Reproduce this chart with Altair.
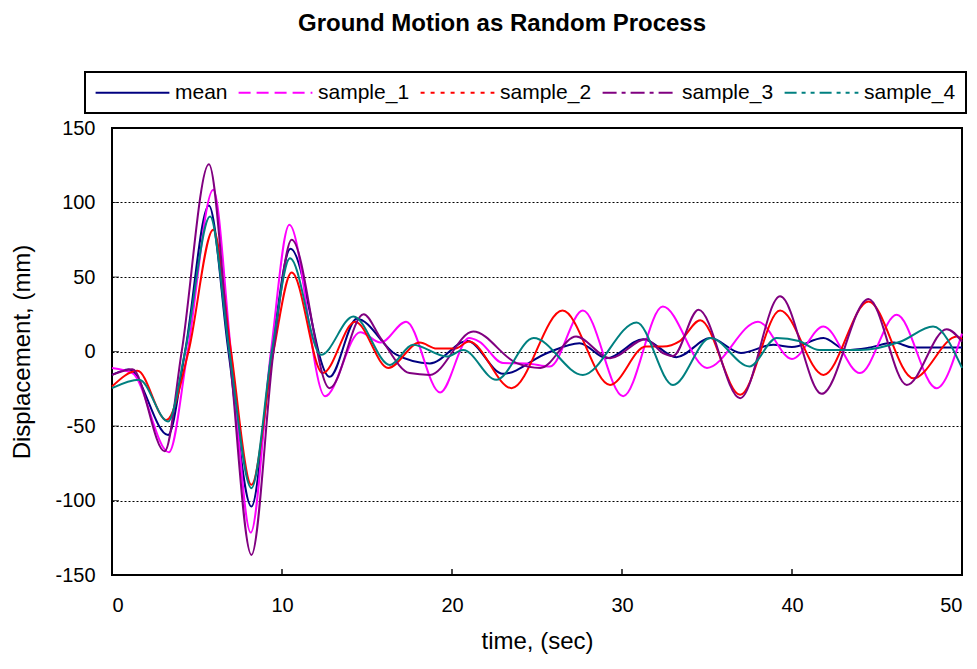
import altair as alt
import pandas as pd

# ---------------- data ----------------
series_names = ["mean", "sample_1", "sample_2", "sample_3", "sample_4"]
series_colors = ["#000080", "#FF00FF", "#FF0000", "#800080", "#008080"]
series_dashes = [[1, 0], [12, 6], [4, 6], [14, 5, 4, 5], [12, 5, 4, 5, 4, 5]]

mean_t = [0, 1.0, 3.3, 4.3, 5.7, 6.85, 8.2, 9.4, 10.5, 12.8, 14.4, 16.7, 18.7, 20.9, 23.0,
          25.6, 27.5, 29.1, 31.25, 33.2, 35.2, 37.0, 38.9, 40.0, 41.85, 43.2, 44.5, 46.0, 47.1, 50]
mean_v = [-15.7, -12, -56, 0, 98, 0, -104, 0, 69, -17, 22, -2, -8, 7, -15,
          -1, 5.6, -4.5, 8.3, -3.8, 9, -1, 4.5, 3, 9, 1, 2.5, 6, 2.7, 2.7]

s1_t = [0, 1.2, 3.35, 4.45, 5.96, 7.0, 8.16, 9.35, 10.43, 12.53, 14.6, 15.8, 17.3, 19.3, 21.0,
        21.6, 23.0, 24.4, 25.76, 27.7, 30.07, 32.4, 35.0, 38.0, 40.0, 41.85, 44.0, 46.16, 48.5, 50]
s1_v = [-11, -14.5, -67.6, 0, 108.5, 0, -121.5, 0, 85, -30, 13, 6, 20, -27.5, 9,
        6.7, -7.8, -8, -10, 27.5, -30, 30.2, -11, 20, -5, 16.8, -14.5, 24.6, -24.6, 12]

s2_t = [0, 1.5, 3.2, 4.5, 5.96, 7.0, 8.2, 9.5, 10.57, 12.4, 14.3, 16.25, 18.1, 19.1, 20.2,
        21.0, 23.5, 26.5, 29.3, 31.4, 32.4, 33.4, 34.6, 36.95, 39.3, 41.85, 44.5, 47.14, 49.7, 50]
s2_v = [-23.5, -13, -46, 0, 81.7, 0, -89.5, 0, 53, -14.5, 20, -11, 6, 2, 2,
        6.7, -24.6, 27.5, -22.4, 3.4, 3.4, 7, 21, -29, 27.5, -15.7, 33.6, -18, 10, 8]

s3_t = [0, 1.2, 3.1, 4.1, 5.7, 6.9, 8.2, 9.5, 10.57, 12.8, 14.8, 15.8, 17.5, 18.7, 21.25,
        23.8, 25.2, 27.3, 29.3, 31.4, 32.4, 33.0, 34.5, 36.95, 39.3, 41.75, 44.5, 46.75, 49.1, 50]
s3_v = [-15.7, -11.9, -67, 0, 125.7, 0, -136.5, 0, 75, -24.6, 25, 9, -14.5, -15.7, 13.4,
        -7.8, -11, 10, -4.5, 8.3, -1, -3, 28, -31.3, 37, -28.4, 35.3, -22.4, 15, 6.7]

s4_t = [0, 1.6, 3.3, 4.3, 5.77, 6.9, 8.2, 9.4, 10.47, 12.3, 14.2, 16.35, 17.7, 19.7, 20.66,
        22.6, 24.8, 27.7, 30.86, 33.0, 35.2, 37.5, 39.1, 40.4, 41.6, 44.0, 46.4, 48.3, 50]
s4_v = [-24.6, -19, -47, 0, 90.6, 0, -91.7, 0, 62.6, -2.2, 23.5, -9, 4.5, -3.4, 1,
        -19, 9, -15.7, 19.5, -22.5, 9, -10, 9, 7, 1, 1, 6.7, 16.8, -11]

x_ticks = [0, 10, 20, 30, 40, 50]
y_ticks = [-150, -100, -50, 0, 50, 100, 150]
x_inner_ticks = [10, 20, 30, 40]
y_inner_ticks = [-100, -50, 0, 50, 100]

# ---------------- tables ----------------
rows = []
for name, ts, vs in zip(series_names,
                        [mean_t, s1_t, s2_t, s3_t, s4_t],
                        [mean_v, s1_v, s2_v, s3_v, s4_v]):
    for t, v in zip(ts, vs):
        rows.append({"series": name, "time": t, "disp": v})
df = pd.DataFrame(rows)
xt_df = pd.DataFrame({"time": x_inner_ticks})
yt_df = pd.DataFrame({"disp": y_inner_ticks})

FONT = "Liberation Sans"
PLOT_W, PLOT_H = 850, 447

color_scale = alt.Scale(domain=series_names, range=series_colors)
dash_scale = alt.Scale(domain=series_names, range=series_dashes)
x_scale = alt.Scale(domain=[0, 50], nice=False, zero=False)
y_scale = alt.Scale(domain=[-150, 150], nice=False, zero=False)

x_enc = alt.X("time:Q", scale=x_scale,
              axis=alt.Axis(values=x_ticks, title="time, (sec)", grid=False,
                            ticks=False, tickSize=0, domain=False,
                            labelPadding=20, titlePadding=14,
                            labelExpr="'' + datum.value"))
y_enc = alt.Y("disp:Q", scale=y_scale,
              axis=alt.Axis(values=y_ticks, title="Displacement, (mm)", grid=True,
                            gridDash=[2, 2], gridColor="black", gridWidth=1, gridOpacity=1,
                            ticks=False, tickSize=0, domain=False,
                            labelPadding=17, titlePadding=20,
                            labelExpr="'' + datum.value"))

legend = alt.Legend(
    title=None, orient="none", legendX=-27, legendY=-56,
    direction="horizontal", columns=5,
    symbolType="M-4.1,0H4.1", symbolSize=324, symbolStrokeWidth=2, symbolOpacity=1,
    symbolOffset=27,
    labelFontSize=21, labelFont=FONT, labelColor="black",
    labelOffset=32, columnPadding=6, padding=10,
    strokeColor="black")

# solid data lines (as drawn in the plot area)
lines = alt.Chart(df).mark_line(strokeWidth=2, interpolate="monotone").encode(
    x=x_enc, y=y_enc,
    color=alt.Color("series:N", scale=color_scale, legend=legend),
)

# invisible layer that supplies the dashed legend keys
legend_layer = alt.Chart(df).mark_line(strokeWidth=2, opacity=0).encode(
    x=x_enc, y=y_enc,
    color=alt.Color("series:N", scale=color_scale, legend=legend),
    strokeDash=alt.StrokeDash("series:N", scale=dash_scale, legend=legend),
)

# small inward tick marks at the axis tick values
x_tick_marks = alt.Chart(xt_df).mark_tick(color="black", thickness=2, size=6).encode(
    x=x_enc,
    y=alt.value(PLOT_H - 3),
)
y_tick_marks = alt.Chart(yt_df).mark_tick(color="black", thickness=1, size=7,
                                          orient="horizontal").encode(
    y=y_enc,
    x=alt.value(3.5),
)

chart = alt.layer(lines, legend_layer, x_tick_marks, y_tick_marks).properties(
    width=PLOT_W, height=PLOT_H,
    autosize="none",
    padding={"left": 104, "top": 120, "right": 7, "bottom": 85},
    title=alt.TitleParams("Ground Motion as Random Process", fontSize=24, font=FONT,
                          fontWeight="bold", color="black", anchor="middle",
                          dx=-35, offset=23, baseline="middle"),
).configure_view(
    stroke="black", strokeWidth=2
).configure_axis(
    labelFont=FONT, titleFont=FONT, labelFontSize=20, titleFontSize=24,
    titleFontWeight="normal", labelColor="black", titleColor="black"
).configure_legend(
    strokeWidth=2
)

chart.save("out.html", embed_options={"renderer": "svg", "actions": False})
